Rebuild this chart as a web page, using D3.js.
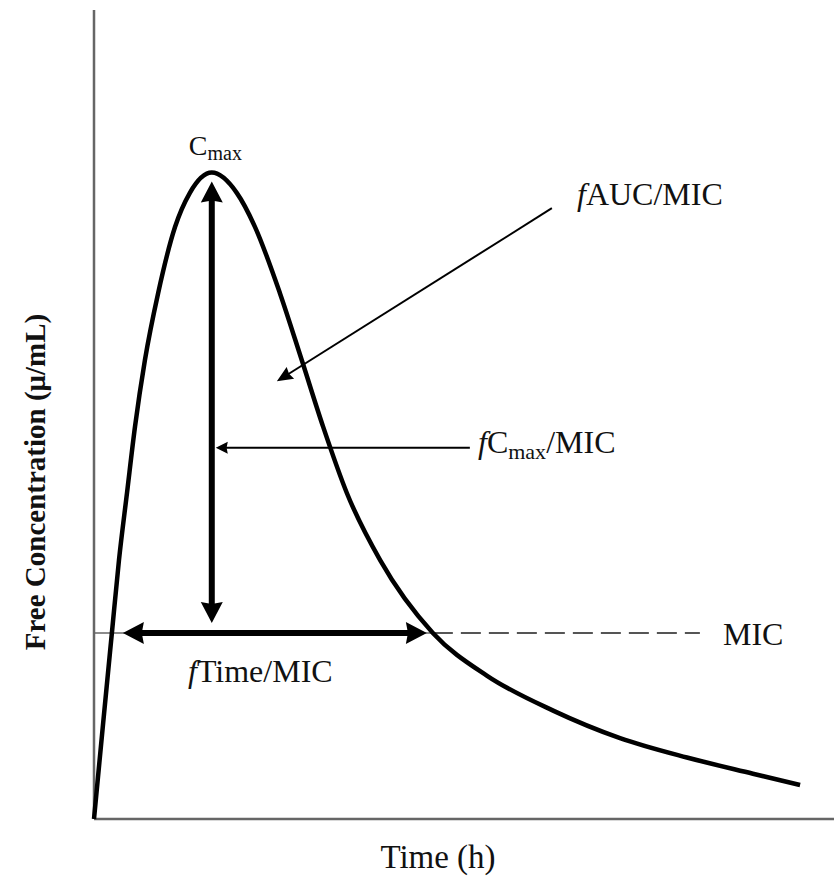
<!DOCTYPE html>
<html>
<head>
<meta charset="utf-8">
<script src="https://cdn.jsdelivr.net/npm/d3@7"></script>
<style>
  body { margin: 0; background: #fff; }
  text { font-family: "Liberation Serif", "Times New Roman", serif; fill: #111; }
</style>
</head>
<body>
<div id="chart"></div>
<script>
// Concentration-time profile (time in h, conc. in arbitrary units)
var timePoints = [0, 0.3, 0.58, 0.81, 1.07, 1.33, 1.65, 2.08, 2.63, 3.11, 3.82, 4.63, 5.22, 6.03, 6.74, 7.43, 8.20, 9.28, 10.99, 12.75, 14.89, 17.06, 19.23, 21.37, 22.90];
var concValues = [0, 12.0, 23.0, 32.0, 40.3, 48.5, 56.7, 65.0, 73.2, 77.4, 79.9, 77.4, 73.2, 65.0, 56.7, 48.5, 40.3, 32.0, 23.0, 17.7, 13.4, 10.0, 7.6, 5.6, 4.2];

var micValue = 23.0;
var cmaxValue = 79.9;
var tmaxValue = 3.82;
var timeAboveMic = [0.58, 10.99];

// Set up the dimensions
var width = 836, height = 880;
var margin = {top: 10, right: 2, bottom: 61, left: 94};

var svg = d3.select("#chart")
    .append("svg")
        .attr("width", width)
        .attr("height", height);

var x = d3.scaleLinear()
    .domain([0, 24])
    .range([margin.left, width - margin.right]);

var y = d3.scaleLinear()
    .domain([0, 100])
    .range([height - margin.bottom, margin.top]);

// Axes (no ticks)
svg.append("line")
    .attr("x1", x(0)).attr("x2", x(0))
    .attr("y1", y(0)).attr("y2", y(100))
    .attr("stroke", "#666").attr("stroke-width", 2.5);

svg.append("line")
    .attr("x1", x(0)).attr("x2", x(24))
    .attr("y1", y(0)).attr("y2", y(0))
    .attr("stroke", "#666").attr("stroke-width", 2.5);

// MIC line: solid under the arrow, dashed after the curve crossing
svg.append("line")
    .attr("x1", x(0)).attr("x2", x(timeAboveMic[1]))
    .attr("y1", y(micValue)).attr("y2", y(micValue))
    .attr("stroke", "#666").attr("stroke-width", 1.5);

svg.append("line")
    .attr("x1", x(timeAboveMic[1])).attr("x2", x(19.65))
    .attr("y1", y(micValue)).attr("y2", y(micValue))
    .attr("stroke", "#555").attr("stroke-width", 2)
    .attr("stroke-dasharray", "20,8");

// The curve
var line = d3.line()
    .x(d => x(d[0]))
    .y(d => y(d[1]))
    .curve(d3.curveMonotoneX);

svg.append("path")
    .datum(d3.zip(timePoints, concValues))
    .attr("fill", "none")
    .attr("stroke", "#000")
    .attr("stroke-width", 4.5)
    .attr("d", line);

// Arrow helper: draws a shaft and filled heads
function arrow(x1, y1, x2, y2, opts) {
    var dx = x2 - x1, dy = y2 - y1;
    var len = Math.sqrt(dx * dx + dy * dy);
    var ux = dx / len, uy = dy / len;
    var g = svg.append("g");
    var sx1 = opts.both ? x1 + ux * opts.head * 0.8 : x1;
    var sy1 = opts.both ? y1 + uy * opts.head * 0.8 : y1;
    g.append("line")
        .attr("x1", sx1).attr("y1", sy1)
        .attr("x2", x2 - ux * opts.head * 0.8).attr("y2", y2 - uy * opts.head * 0.8)
        .attr("stroke", "#000").attr("stroke-width", opts.w);
    function head(tx, ty, dirx, diry) {
        var bx = tx - dirx * opts.head, by = ty - diry * opts.head;
        var pts = [[tx, ty],
                   [bx + (-diry) * opts.half, by + dirx * opts.half],
                   [bx + dirx * opts.head * 0.1, by + diry * opts.head * 0.1],
                   [bx - (-diry) * opts.half, by - dirx * opts.half]];
        g.append("polygon")
            .attr("points", pts.map(p => p.join(",")).join(" "))
            .attr("fill", "#000");
    }
    head(x2, y2, ux, uy);
    if (opts.both) head(x1, y1, -ux, -uy);
}

// Cmax vertical double arrow
arrow(x(tmaxValue), y(cmaxValue) + 9, x(tmaxValue), y(micValue) - 10,
      {both: true, w: 6, head: 21, half: 11});

// fTime/MIC horizontal double arrow
arrow(x(timeAboveMic[0]) + 11, y(micValue), x(timeAboveMic[1]) - 6, y(micValue),
      {both: true, w: 6, head: 21, half: 11});

// fCmax/MIC pointer
arrow(x(12.19), y(45.9), x(tmaxValue) + 4, y(45.9),
      {both: false, w: 2, head: 12, half: 6});

// fAUC/MIC pointer
arrow(x(14.85), y(75.5), x(5.93), y(54.1),
      {both: false, w: 2, head: 16, half: 7});

// Labels
var cmaxLabel = svg.append("text")
    .attr("x", x(tmaxValue) - 23)
    .attr("y", y(cmaxValue) - 18)
    .style("font-size", "28px");
cmaxLabel.append("tspan").text("C");
cmaxLabel.append("tspan").attr("dy", 5).style("font-size", "20px").text("max");

var aucLabel = svg.append("text")
    .attr("x", 577).attr("y", 205)
    .style("font-size", "32px");
aucLabel.append("tspan").style("font-style", "italic").text("f");
aucLabel.append("tspan").text("AUC/MIC");

var cmaxMicLabel = svg.append("text")
    .attr("x", 478).attr("y", 453)
    .style("font-size", "32px");
cmaxMicLabel.append("tspan").style("font-style", "italic").text("f");
cmaxMicLabel.append("tspan").text("C");
cmaxMicLabel.append("tspan").attr("dy", 6).style("font-size", "22px").text("max");
cmaxMicLabel.append("tspan").attr("dy", -6).text("/MIC");

var timeMicLabel = svg.append("text")
    .attr("x", 188).attr("y", 682)
    .style("font-size", "32px");
timeMicLabel.append("tspan").style("font-style", "italic").text("f");
timeMicLabel.append("tspan").text("Time/MIC");

svg.append("text")
    .attr("x", 723).attr("y", 645)
    .style("font-size", "32px")
    .text("MIC");

// Axis titles
svg.append("text")
    .attr("transform", "translate(45," + 482 + ") rotate(-90)")
    .attr("text-anchor", "middle")
    .style("font-size", "29px")
    .style("font-weight", "bold")
    .text("Free Concentration (\u03bc/mL)");

svg.append("text")
    .attr("x", 438).attr("y", 868)
    .attr("text-anchor", "middle")
    .style("font-size", "33px")
    .text("Time (h)");
</script>
</body>
</html>
